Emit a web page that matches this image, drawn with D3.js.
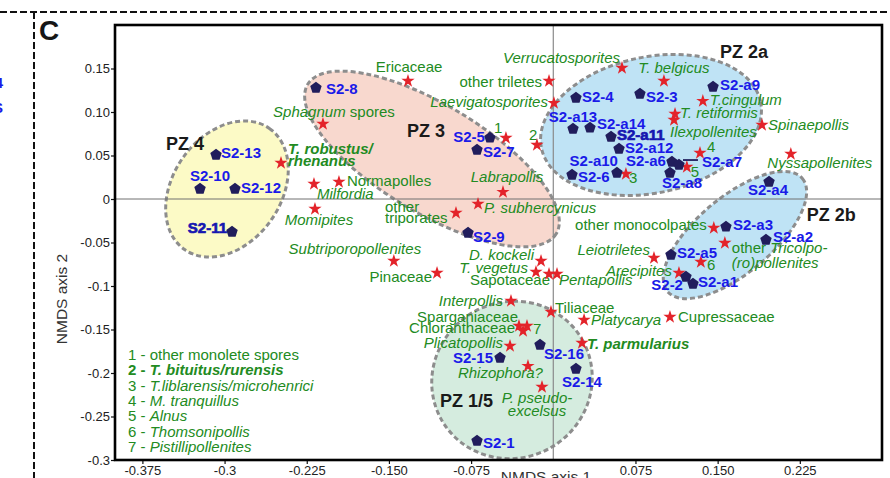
<!DOCTYPE html>
<html>
<head>
<meta charset="utf-8">
<script src="https://cdn.jsdelivr.net/npm/d3@7"></script>
<style>
	body { margin: 0; background: #fff; }
	svg text { font-family: Arial, 'Liberation Sans', sans-serif; }
</style>
</head>
<body>
<div id="chart"></div>
<script>
/* * * * * * * * * * * * * *
 *     NMDS ordination       *
 * * * * * * * * * * * * * */

// samples (NMDS axis 1 / axis 2 scores)
const sampleNames = ['S2-1', 'S2-2', 'S2-3', 'S2-4', 'S2-5', 'S2-6', 'S2-7', 'S2-8', 'S2-9', 'S2-10', 'S2-11', 'S2-12', 'S2-13', 'S2-14', 'S2-15', 'S2-16',
	'S2-a1', 'S2-a2', 'S2-a3', 'S2-a4', 'S2-a5', 'S2-a6', 'S2-a7', 'S2-a8', 'S2-a9', 'S2-a10', 'S2-a11', 'S2-a12', 'S2-a13', 'S2-a14'];
const sampleX = [-0.0696, 0.1211, 0.0791, 0.0207, -0.0578, 0.0171, -0.0696, -0.2166, -0.0778, -0.3224, -0.2932, -0.2905, -0.3078, 0.0207, -0.0486, -0.0121,
	0.1275, 0.1941, 0.1576, 0.1969, 0.1074, 0.1083, 0.1147, 0.1065, 0.1458, 0.0581, 0.0527, 0.06, 0.018, 0.0335];
const sampleY = [-0.277, -0.0885, 0.1218, 0.1172, 0.0713, 0.0287, 0.0575, 0.1287, -0.0379, 0.0126, -0.0368, 0.0126, 0.0517, -0.1943, -0.1816, -0.1667,
	-0.0966, -0.046, -0.031, 0.0207, -0.0632, 0.0437, 0.0402, 0.031, 0.1299, 0.031, 0.0724, 0.0586, 0.0816, 0.0828];

// taxa (species scores)
const taxonNames = ['Ericaceae', 'Sphagnum spores', 'T. robustus/rhenanus', 'Milfordia', 'Normapolles', 'Momipites', 'other triporates', 'Labrapollis',
	'P. subhercynicus', '1', '2', 'other triletes', 'Laevigatosporites', 'Verrucatosporites', 'T. belgicus', 'T.cingulum', 'T. retiformis',
	'Ilexpollenites', 'Spinaepollis', '4', '5', '3', 'Nyssapollenites', 'other monocolpates', 'other Tricolpo(ro)pollenites', '6', 'Leiotriletes',
	'Arecipites', 'D. kockeli', 'T. vegetus', 'Sapotaceae', 'Pentapollis', 'Interpollis', 'Tiliaceae', 'Sparganiaceae', 'Chloranthaceae', '7',
	'Plicatopollis', 'Rhizophora?', 'P. pseudoexcelsus', 'Platycarya', 'T. parmularius', 'Cupressaceae', 'Subtriporopollenites', 'Pinaceae'];
const taxonX = [-0.1326, -0.2102, -0.2485, -0.2184, -0.1956, -0.2175, -0.0888, -0.0459,
	-0.0687, -0.0432, -0.0149, -0.0039, 0.0006, 0.0627, 0.101, 0.1365, 0.1111,
	0.1102, 0.1905, 0.1339, 0.1219, 0.0663, 0.2168, 0.1465, 0.1566, 0.1347, 0.0919,
	0.1147, -0.0112, -0.0158, -0.0039, 0.0034, -0.0386, -0.0021, -0.0313, -0.0276, -0.024,
	-0.0395, -0.0231, -0.0103, 0.0281, 0.0262, 0.1065, -0.1455, -0.1061];
const taxonY = [0.1356, 0.0862, 0.0414, 0.0172, 0.0195, -0.0115, -0.0161, 0.008,
	-0.0057, 0.0701, 0.0621, 0.1356, 0.1103, 0.1506, 0.1356, 0.1126, 0.0977,
	0.0908, 0.0851, 0.0529, 0.0368, 0.0287, 0.0517, -0.0333, -0.0506, -0.0724, -0.0678,
	-0.0851, -0.0713, -0.0839, -0.0862, -0.0862, -0.1172, -0.1299, -0.146, -0.1517, -0.146,
	-0.169, -0.192, -0.2161, -0.1391, -0.1655, -0.1356, -0.0713, -0.0851];

// pollen zones (ellipse centre, semi-axes in axis 1 units, tilt)
const zoneNames = ['PZ 4', 'PZ 3', 'PZ 2a', 'PZ 2b', 'PZ 1/5'];
const zoneCX = [-0.2978, -0.1107, 0.0892, 0.1658, -0.0377];
const zoneCY = [0.0115, 0.046, 0.0851, -0.0414, -0.208];
const zoneA = [0.0675, 0.1323, 0.1022, 0.0803, 0.0739];
const zoneB = [0.0493, 0.0493, 0.0621, 0.0347, 0.0712];
const zoneAngle = [-55, 31, -12, -40, -30];
const zoneLabelX = [-0.3535, -0.1335, 0.1521, 0.2314, -0.1034];
const zoneLabelY = [0.0563, 0.0713, 0.1621, -0.0253, -0.2391];

// axes
const xTicks = [-0.375, -0.3, -0.225, -0.15, -0.075, 0.075, 0.15, 0.225];
const xTickLabels = ['-0.375', '-0.3', '-0.225', '-0.150', '-0.075', '0.075', '0.150', '0.225'];
const yTicks = [0.15, 0.1, 0.05, 0, -0.05, -0.1, -0.15, -0.2, -0.25, -0.3];
const yTickLabels = ['0.15', '0.10', '0.05', '0', '-0.05', '-0.1', '-0.15', '-0.2', '-0.25', '-0.3'];

// numbered taxa key
const legendLines = ['1 - other monolete spores', '<b>2 - </b><bi>T. bituitus/rurensis</bi>', '3 - <i>T.liblarensis/microhenrici</i>',
	'4 - <i>M. tranquillus</i>', '5 - <i>Alnus</i>', '6 - <i>Thomsonipollis</i>', '7 - <i>Pistillipollenites</i>'];

/* label layout: [dx, dy, anchor] in pixels from the marker */
const sampleLabelPos = {
	'S2-1': [6, 8, 'start'], 'S2-2': [-3, 14, 'end'], 'S2-3': [6, 9, 'start'], 'S2-4': [6, 5, 'start'], 'S2-5': [-5, 5, 'end'],
	'S2-6': [6, 8, 'start'], 'S2-7': [6, 8, 'start'], 'S2-8': [10, 7, 'start'], 'S2-9': [5, 10, 'start'], 'S2-10': [10, -7, 'middle'],
	'S2-11': [-5, 2, 'end'], 'S2-12': [6, 5, 'start'], 'S2-13': [5, 4, 'start'], 'S2-14': [6, 19, 'middle'], 'S2-15': [-7, 6, 'end'],
	'S2-16': [4, 15, 'start'], 'S2-a1': [5, 4, 'start'], 'S2-a2': [7, 3, 'start'], 'S2-a3': [7, 4, 'start'], 'S2-a4': [-1, 14, 'middle'],
	'S2-a5': [6, 4, 'start'], 'S2-a6': [-6, 5, 'end'], 'S2-a7': [23, 3, 'start'], 'S2-a8': [12, 16, 'middle'], 'S2-a9': [7, 4, 'start'],
	'S2-a10': [1, -6, 'end'], 'S2-a11': [6, 4, 'start'], 'S2-a12': [6, 5, 'start'], 'S2-a13': [0, -6, 'middle'], 'S2-a14': [7, 2, 'start']
};
const heavyLabels = ['S2-11', 'S2-a11'];

// [dx, dy, anchor, line height, lines]
const taxonLabelPos = {
	'Ericaceae': [1, -9, 'middle', 0, ['Ericaceae']],
	'Sphagnum spores': [11, -7, 'middle', 0, ['<i>Sphagnum</i> spores']],
	'T. robustus/rhenanus': [7, -9, 'start', 12, ['<bi>T. robustus/</bi>', '<bi>rhenanus</bi>']],
	'Milfordia': [3, 15, 'start', 0, ['<i>Milfordia</i>']],
	'Normapolles': [8, 4, 'start', 0, ['Normapolles']],
	'Momipites': [4, 16, 'middle', 0, ['<i>Momipites</i>']],
	'other triporates': [-71, -1, 'start', 11, ['other', 'triporates']],
	'Labrapollis': [4, -10, 'middle', 0, ['<i>Labrapollis</i>']],
	'P. subhercynicus': [6, 9, 'start', 0, ['<i>P. subhercynicus</i>']],
	'1': [-12, -5, 'start', 0, ['1']],
	'2': [-8, -5, 'start', 0, ['2']],
	'other triletes': [-7, 6, 'end', 0, ['other triletes']],
	'Laevigatosporites': [-6, 4, 'end', 0, ['<i>Laevigatosporites</i>']],
	'Verrucatosporites': [-2, -5, 'end', 0, ['<i>Verrucatosporites</i>']],
	'T. belgicus': [10, -8, 'middle', 0, ['<i>T. belgicus</i>']],
	'T.cingulum': [7, 4, 'start', 0, ['<i>T.cingulum</i>']],
	'T. retiformis': [5, 4, 'start', 0, ['<i>T. retiformis</i>']],
	'Ilexpollenites': [-4, 17, 'start', 0, ['<i>Ilexpollenites</i>']],
	'Spinaepollis': [6, 5, 'start', 0, ['<i>Spinaepollis</i>']],
	'4': [7, -1, 'start', 0, ['4']],
	'5': [4, 10, 'start', 0, ['5']],
	'3': [3, 9, 'start', 0, ['3']],
	'Nyssapollenites': [29, 14, 'middle', 0, ['<i>Nyssapollenites</i>']],
	'other monocolpates': [-7, 2, 'end', 0, ['other monocolpates']],
	'other Tricolpo(ro)pollenites': [7, 10, 'start', 15, ['other <i>Tricolpo-</i>', '<i>(ro)pollenites</i>']],
	'6': [6, 8, 'start', 0, ['6']],
	'Leiotriletes': [-4, -3, 'end', 0, ['<i>Leiotriletes</i>']],
	'Arecipites': [-7, 3, 'end', 0, ['<i>Arecipites</i>']],
	'D. kockeli': [-7, -1, 'end', 0, ['<i>D. kockeli</i>']],
	'T. vegetus': [-8, 1, 'end', 0, ['<i>T. vegetus</i>']],
	'Sapotaceae': [1, 11, 'end', 0, ['Sapotaceae']],
	'Pentapollis': [2, 11, 'start', 0, ['<i>Pentapollis</i>']],
	'Interpollis': [-8, 5, 'end', 0, ['<i>Interpollis</i>']],
	'Tiliaceae': [4, 1, 'start', 0, ['Tiliaceae']],
	'Sparganiaceae': [-1, -4, 'end', 0, ['Sparganiaceae']],
	'Chloranthaceae': [-8, 2, 'end', 0, ['Chloranthaceae']],
	'7': [6, 8, 'start', 0, ['7']],
	'Plicatopollis': [-7, 2, 'end', 0, ['<i>Plicatopollis</i>']],
	'Rhizophora?': [15, 12, 'end', 0, ['<i>Rhizophora?</i>']],
	'P. pseudoexcelsus': [-5, 16, 'middle', 13, ['<i>P. pseudo-</i>', '<i>excelsus</i>']],
	'Platycarya': [7, 5, 'start', 0, ['<i>Platycarya</i>']],
	'T. parmularius': [5, 6, 'start', 0, ['<bi>T. parmularius</bi>']],
	'Cupressaceae': [8, 5, 'start', 0, ['Cupressaceae']],
	'Subtriporopollenites': [-39, -7, 'middle', 0, ['<i>Subtriporopollenites</i>']],
	'Pinaceae': [-5, 9, 'end', 0, ['Pinaceae']]
};

const zoneFills = ['#fcfac6', '#f8d8ce', '#bfe3f5', '#bfe3f5', '#d5ecdf'];

class NmdsPlot {
	constructor(parentElement) {
		this.parentElement = parentElement;

		// define colors
		this.sampleColor = '#211d5c';
		this.sampleText = '#1a1ae8';
		this.taxonColor = '#e3232a';
		this.taxonText = '#228b22';

		this.initVis();
	}

	initVis() {
		let vis = this;

		vis.width = 890;
		vis.height = 478;
		vis.margin = { top: 25, right: 8, bottom: 18, left: 115 };

		vis.svg = d3.select('#' + vis.parentElement).append('svg').attr('width', vis.width).attr('height', vis.height);

		vis.x = d3.scaleLinear().domain([-0.4, 0.3]).range([vis.margin.left, vis.width - vis.margin.right]);
		vis.y = d3.scaleLinear().domain([-0.3, 0.2]).range([vis.height - vis.margin.bottom, vis.margin.top]);

		vis.drawFrame();
		vis.drawZones();
		vis.drawAxes();
		vis.drawTaxa();
		vis.drawSamples();
		vis.drawLegend();
	}

	// writes '<i>..</i>' style markup into tspans
	richText(sel, str) {
		let re = /<(bi|b|i)>(.*?)<\/\1>|([^<]+)/g;
		let m;
		while ((m = re.exec(str)) !== null) {
			let t = sel.append('tspan');
			if (m[3] !== undefined) {
				t.text(m[3]);
			} else {
				t.text(m[2])
					.attr('font-style', m[1].includes('i') ? 'italic' : null)
					.attr('font-weight', m[1].includes('b') ? 'bold' : null);
			}
		}
	}

	drawFrame() {
		let vis = this;

		// panel borders from the figure layout
		vis.svg.append('line').attr('x1', 0).attr('x2', 887).attr('y1', 12).attr('y2', 12)
			.attr('stroke', '#111').attr('stroke-width', 2).attr('stroke-dasharray', '7,3');
		vis.svg.append('line').attr('x1', 34).attr('x2', 34).attr('y1', 12).attr('y2', vis.height)
			.attr('stroke', '#111').attr('stroke-width', 2).attr('stroke-dasharray', '7,3');

		// bits of the neighbouring panel
		vis.svg.append('text').attr('x', 3).attr('y', 88).attr('text-anchor', 'end')
			.attr('font-size', 15).attr('font-weight', 'bold').attr('fill', vis.sampleText).text('S2-4');
		vis.svg.append('text').attr('x', 3).attr('y', 113).attr('text-anchor', 'end')
			.attr('font-size', 15).attr('font-weight', 'bold').attr('fill', vis.sampleText).text('S2-S');

		// panel letter
		vis.svg.append('text').attr('x', 39).attr('y', 40).attr('font-size', 28).attr('font-weight', 'bold')
			.attr('fill', '#161616').text('C');
	}

	drawZones() {
		let vis = this;

		vis.zones = vis.svg.append('g').attr('class', 'zones');

		zoneNames.forEach((name, i) => {
			let cx = vis.x(zoneCX[i]);
			let cy = vis.y(zoneCY[i]);
			vis.zones.append('ellipse')
				.attr('transform', `translate(${cx},${cy}) rotate(${zoneAngle[i]})`)
				.attr('rx', vis.x(zoneCX[i] + zoneA[i]) - cx)
				.attr('ry', vis.x(zoneCX[i] + zoneB[i]) - cx)
				.attr('fill', zoneFills[i])
				.attr('stroke', '#8d8d8d')
				.attr('stroke-width', 3)
				.attr('stroke-dasharray', '5,3');
		});

		// zero lines
		vis.svg.append('line')
			.attr('x1', vis.x.range()[0]).attr('x2', vis.x.range()[1])
			.attr('y1', vis.y(0)).attr('y2', vis.y(0))
			.attr('stroke', '#707070').attr('stroke-width', 1);
		vis.svg.append('line')
			.attr('x1', vis.x(0)).attr('x2', vis.x(0))
			.attr('y1', vis.y.range()[0]).attr('y2', vis.y.range()[1])
			.attr('stroke', '#8a8a8a').attr('stroke-width', 1.2);

		zoneNames.forEach((name, i) => {
			vis.svg.append('text')
				.attr('x', vis.x(zoneLabelX[i]))
				.attr('y', vis.y(zoneLabelY[i]))
				.attr('font-size', 18)
				.attr('font-weight', 'bold')
				.attr('fill', '#1a1a1a')
				.text(name);
		});
	}

	drawAxes() {
		let vis = this;

		let xAxis = d3.axisBottom(vis.x).tickValues(xTicks).tickSize(4).tickPadding(2)
			.tickFormat((d, i) => xTickLabels[i]);
		let yAxis = d3.axisLeft(vis.y).tickValues(yTicks).tickSize(4).tickPadding(1)
			.tickFormat((d, i) => yTickLabels[i]);

		let gx = vis.svg.append('g').attr('transform', `translate(0, ${vis.y.range()[0]})`).call(xAxis);
		let gy = vis.svg.append('g').attr('transform', `translate(${vis.x.range()[0]}, 0)`).call(yAxis);

		[gx, gy].forEach((g) => {
			g.select('.domain').remove();
			g.selectAll('text').attr('font-size', 13).attr('fill', '#222').attr('font-family', 'Arial, Liberation Sans, sans-serif');
			g.selectAll('line').attr('stroke', '#111').attr('stroke-width', 1.2);
		});

		// plot frame
		vis.svg.append('rect')
			.attr('x', vis.x.range()[0]).attr('y', vis.y.range()[1])
			.attr('width', vis.x.range()[1] - vis.x.range()[0])
			.attr('height', vis.y.range()[0] - vis.y.range()[1])
			.attr('fill', 'none').attr('stroke', '#000').attr('stroke-width', 2.6);

		// axis titles
		vis.svg.append('text').attr('x', 546).attr('y', 482).attr('text-anchor', 'middle')
			.attr('font-size', 15.5).attr('fill', '#333').text('NMDS axis 1');
		vis.svg.append('text').attr('transform', 'translate(67, 299) rotate(-90)').attr('text-anchor', 'middle')
			.attr('font-size', 15.5).attr('fill', '#333').text('NMDS axis 2');
	}

	drawTaxa() {
		let vis = this;

		let star = d3.symbol().type(d3.symbolStar).size(55);

		vis.taxa = vis.svg.append('g').attr('class', 'taxa');

		taxonNames.forEach((name, i) => {
			let px = vis.x(taxonX[i]);
			let py = vis.y(taxonY[i]);
			let pos = taxonLabelPos[name];

			let label = vis.taxa.append('text')
				.attr('font-size', 15)
				.attr('fill', vis.taxonText)
				.attr('text-anchor', pos[2]);
			pos[4].forEach((line, k) => {
				let row = label.append('tspan').attr('x', px + pos[0]).attr('y', py + pos[1] + k * pos[3]);
				vis.richText(row, line);
			});

			vis.taxa.append('path')
				.attr('d', star)
				.attr('transform', `translate(${px},${py})`)
				.attr('fill', vis.taxonColor);
		});
	}

	drawSamples() {
		let vis = this;

		// pentagon marker
		let r = 6;
		let pts = d3.range(5).map((k) => {
			let a = ((-90 + 72 * k) * Math.PI) / 180;
			return [r * Math.cos(a), r * Math.sin(a) + 0.8];
		});
		let pentagon = 'M' + pts.map((p) => p.join(',')).join('L') + 'Z';

		vis.samples = vis.svg.append('g').attr('class', 'samples');

		sampleNames.forEach((name, i) => {
			let px = vis.x(sampleX[i]);
			let py = vis.y(sampleY[i]);
			let pos = sampleLabelPos[name];

			if (name === 'S2-a7') {
				vis.samples.append('line')
					.attr('x1', px + 4).attr('x2', px + 19)
					.attr('y1', py - 4).attr('y2', py - 4)
					.attr('stroke', vis.sampleColor).attr('stroke-width', 1.8);
			}

			vis.samples.append('path')
				.attr('d', pentagon)
				.attr('transform', `translate(${px},${py})`)
				.attr('fill', vis.sampleColor);

			let heavy = heavyLabels.includes(name);
			vis.samples.append('text')
				.attr('x', px + pos[0])
				.attr('y', py + pos[1])
				.attr('text-anchor', pos[2])
				.attr('font-size', 15)
				.attr('font-weight', 'bold')
				.attr('fill', heavy ? '#1616b0' : vis.sampleText)
				.attr('stroke', heavy ? '#1616b0' : null)
				.attr('stroke-width', heavy ? 0.7 : null)
				.text(name);
		});
	}

	drawLegend() {
		let vis = this;

		let legend = vis.svg.append('g').attr('class', 'legend');

		legendLines.forEach((line, i) => {
			let t = legend.append('text')
				.attr('x', 128)
				.attr('y', 360 + i * 15.3)
				.attr('font-size', 15)
				.attr('fill', vis.taxonText);
			vis.richText(t, line);
		});
	}
}

new NmdsPlot('chart');
</script>
</body>
</html>
